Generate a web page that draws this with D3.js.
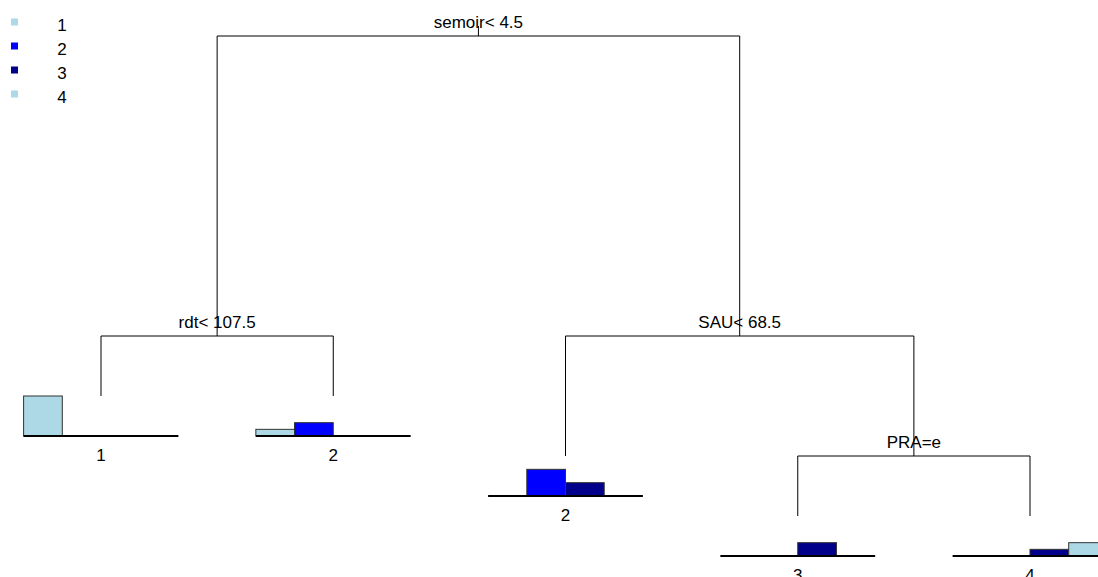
<!DOCTYPE html>
<html>
<head>
<meta charset="utf-8">
<script src="https://cdn.jsdelivr.net/npm/d3@7"></script>
<style>
  html, body { margin: 0; padding: 0; background: #fff; }
  svg { display: block; font-family: "Liberation Sans", Arial, sans-serif; }
</style>
</head>
<body>
<svg id="chart" width="1098" height="577"></svg>
<script>
// ---- data ----
const classes = ["1", "2", "3", "4"];
const classColors = ["#ADD8E6", "#0000FF", "#00008B", "#ADD8E6"];

// tree nodes (rpart style): id, parent, split label / leaf label, node height (scaled deviance)
const nodeIds     = ["root", "rdt", "sau", "leafA", "leafB", "leafC", "pra", "leafD", "leafE"];
const nodeParents = [null, "root", "root", "rdt", "rdt", "sau", "sau", "pra", "pra"];
const nodeLabels  = ["semoir< 4.5", "rdt< 107.5", "SAU< 68.5", "1", "2", "2", "PRA=e", "3", "4"];
const nodeHeights = [1.0, 0.5, 0.5, 0.4, 0.4, 0.3, 0.3, 0.2, 0.2];

// class counts at each leaf (order of leaves left to right)
const leafOrder  = ["leafA", "leafB", "leafC", "leafD", "leafE"];
const leafCounts = [
  [6, 0, 0, 0],
  [1, 2, 0, 0],
  [0, 4, 2, 0],
  [0, 0, 2, 0],
  [0, 0, 1, 2]
];

// ---- layout ----
const svg = d3.select("#chart");

const table = nodeIds.map((id, i) => ({ id, parentId: nodeParents[i], label: nodeLabels[i], h: nodeHeights[i] }));
const root = d3.stratify().id(d => d.id).parentId(d => d.parentId)(table);

// leaves equally spaced
const xLeaf = d3.scalePoint().domain(leafOrder).range([101, 1030]);
root.eachAfter(n => {
  if (!n.children) n.x = xLeaf(n.id);
  else n.x = d3.mean(n.children, c => c.x);
});
const yScale = d3.scaleLinear().domain([1.0, 0.5]).range([36, 336]);
root.each(n => { n.y = yScale(n.data.h); });

const g = svg.append("g");

// root stub
g.append("line")
  .attr("x1", root.x).attr("x2", root.x)
  .attr("y1", root.y - 10).attr("y2", root.y)
  .attr("stroke", "#000").attr("stroke-width", 1);

// branches
root.each(n => {
  if (!n.children) return;
  const [l, r] = n.children;
  g.append("line")
    .attr("x1", l.x).attr("x2", r.x).attr("y1", n.y).attr("y2", n.y)
    .attr("stroke", "#000").attr("stroke-width", 1);
  n.children.forEach(c => {
    g.append("line")
      .attr("x1", c.x).attr("x2", c.x).attr("y1", n.y).attr("y2", c.y)
      .attr("stroke", "#000").attr("stroke-width", 1);
  });
  g.append("text")
    .attr("x", n.x).attr("y", n.y - 8)
    .attr("text-anchor", "middle")
    .attr("font-size", 17)
    .attr("fill", "#000")
    .text(n.data.label);
});

// leaf histograms
const slotW = 38.7;
const barMax = 6;
const hScale = d3.scaleLinear().domain([0, barMax]).range([0, 40]);
const slot = d3.scaleBand().domain(classes).range([-2 * slotW, 2 * slotW]).padding(0);

root.leaves().forEach(leaf => {
  const counts = leafCounts[leafOrder.indexOf(leaf.id)];
  const base = leaf.y + hScale(barMax);
  const lg = g.append("g").attr("transform", `translate(${leaf.x},0)`);
  lg.selectAll("rect").data(counts.map((v, i) => ({ v, i })).filter(d => d.v > 0))
    .join("rect")
    .attr("x", d => slot(classes[d.i]))
    .attr("y", d => base - hScale(d.v))
    .attr("width", slot.bandwidth())
    .attr("height", d => hScale(d.v))
    .attr("fill", d => classColors[d.i])
    .attr("stroke", "#333")
    .attr("stroke-width", 1);
  lg.append("line")
    .attr("x1", -2 * slotW).attr("x2", 2 * slotW)
    .attr("y1", base).attr("y2", base)
    .attr("stroke", "#000").attr("stroke-width", 1.8);
  lg.append("text")
    .attr("x", 0).attr("y", base + 25)
    .attr("text-anchor", "middle")
    .attr("font-size", 17)
    .text(leaf.data.label);
});

// legend
const legend = svg.append("g");
const legY = d3.scalePoint().domain(classes).range([22, 94]);
classes.forEach((c, i) => {
  legend.append("rect")
    .attr("x", 11).attr("y", legY(c) - 3.5)
    .attr("width", 7).attr("height", 7)
    .attr("fill", classColors[i]);
  legend.append("text")
    .attr("x", 62).attr("y", legY(c) + 9)
    .attr("text-anchor", "middle")
    .attr("font-size", 17)
    .text(c);
});
</script>
</body>
</html>
